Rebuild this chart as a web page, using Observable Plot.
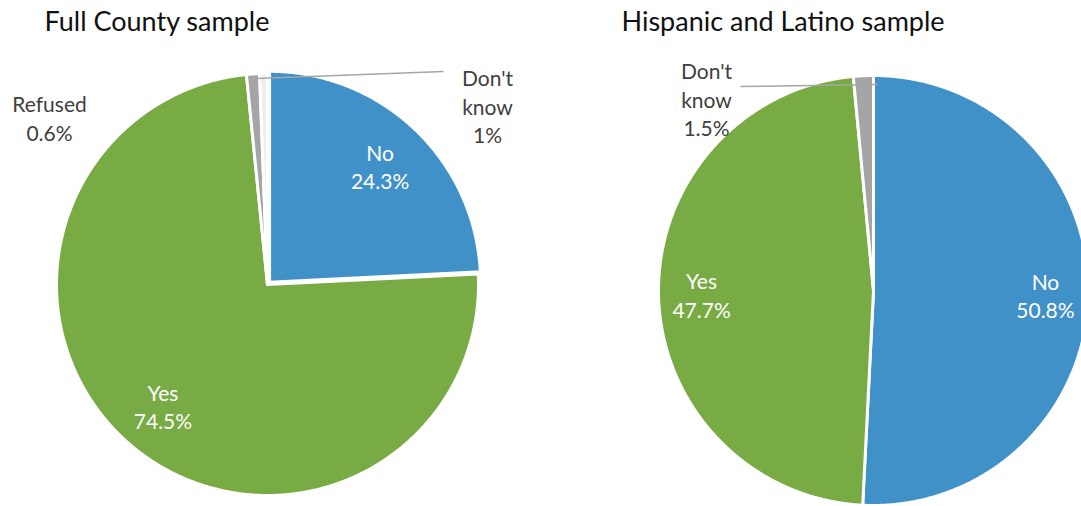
<!DOCTYPE html>
<html><head><meta charset="utf-8">
<script src="https://cdn.jsdelivr.net/npm/d3@7"></script>
<script src="https://cdn.jsdelivr.net/npm/@observablehq/plot@0.6"></script>
<style>body{margin:0;background:#fff;} svg{display:block;}</style>
</head><body><div id="chart"></div>
<script>
// ---- data ----
const titles = ["Full County sample", "Hispanic and Latino sample"];
const countyCategories = ["No", "Yes", "Don't know", "Refused"];
const countyValues = [24.3, 74.5, 1, 0.6];
const hispanicCategories = ["No", "Yes", "Don't know"];
const hispanicValues = [50.8, 47.7, 1.5];

// ---- styles / layout ----
const colors = {"No": "#4191c9", "Yes": "#79ab45", "Don't know": "#a5a5a5", "Refused": "#eeeeee"};
const W = 1081, H = 506;
const FONT = "Lato, 'Open Sans', sans-serif";
const layout = [
  {title: titles[0], cats: countyCategories, vals: countyValues, cx: 267, cy: 284, r: 211, labelR: 0.76,
   titleX: 44, titleY: 22, explode: {"No": 3},
   outside: {"Refused": {x: 49, y: 117}, "Don't know": {x: 487, y: 105}},
   leader: {"Don't know": {x1: 443, y1: 71, x2: 256, y2: 78}}},
  {title: titles[1], cats: hispanicCategories, vals: hispanicValues, cx: 873, cy: 290, r: 215, labelR: 0.8,
   titleX: 621, titleY: 22, explode: {},
   outside: {"Don't know": {x: 706, y: 98}},
   leader: {"Don't know": {x1: 740, y1: 86, x2: 877, y2: 84}}}
];

const slicePts = [], inner = [], outside = [], leaders = [], titleRows = [];
layout.forEach((p, pi) => {
  titleRows.push({x: p.titleX, y: p.titleY, text: p.title});
  const rows = p.cats.map((c, i) => ({cat: c, value: p.vals[i]}));
  const arcs = d3.pie().sort(null).value(d => d.value)(rows);
  arcs.forEach((a, i) => {
    const cat = a.data.cat;
    const mid = (a.startAngle + a.endAngle) / 2;
    const ex = p.explode[cat] || 0;
    const ox = p.cx + ex * Math.sin(mid), oy = p.cy - ex * Math.cos(mid);
    const id = pi + "-" + cat;
    slicePts.push({id, cat, x: ox, y: oy});
    const n = Math.max(2, Math.ceil((a.endAngle - a.startAngle) / 0.005));
    for (let k = 0; k <= n; k++) {
      const t = a.startAngle + (a.endAngle - a.startAngle) * k / n;
      slicePts.push({id, cat, x: ox + p.r * Math.sin(t), y: oy - p.r * Math.cos(t)});
    }
    slicePts.push({id, cat, x: ox, y: oy});
    const label = cat.replace("Don't know", "Don't\nknow") + "\n" + a.data.value + "%";
    if (p.outside[cat]) {
      outside.push({x: p.outside[cat].x, y: p.outside[cat].y, text: label});
    } else {
      inner.push({x: ox + p.r * p.labelR * Math.sin(mid), y: oy - p.r * p.labelR * Math.cos(mid), text: label});
    }
    if (p.leader[cat]) leaders.push(p.leader[cat]);
  });
});

const chart = Plot.plot({
  width: W, height: H,
  margin: 0,
  x: {domain: [0, W], range: [0, W], axis: null},
  y: {domain: [0, H], range: [0, H], axis: null},
  color: {type: "identity"},
  style: {fontFamily: FONT, background: "#fff"},
  marks: [
    Plot.line(slicePts, {x: "x", y: "y", z: "id", fill: d => colors[d.cat], stroke: "#fff", strokeWidth: 3, strokeLinejoin: "round"}),
    Plot.link(leaders, {x1: "x1", y1: "y1", x2: "x2", y2: "y2", stroke: "#a5a5a5", strokeWidth: 1.5}),
    Plot.text(inner, {x: "x", y: "y", text: "text", fill: "#fff", fontSize: 21, lineHeight: 1.35, lineAnchor: "middle"}),
    Plot.text(outside, {x: "x", y: "y", text: "text", fill: "#404040", fontSize: 21, lineHeight: 1.35, lineAnchor: "middle"}),
    Plot.text(titleRows, {x: "x", y: "y", text: "text", fill: "#111", fontSize: 27, textAnchor: "start", lineAnchor: "middle"})
  ]
});
document.getElementById("chart").appendChild(chart);
</script>
</body></html>
